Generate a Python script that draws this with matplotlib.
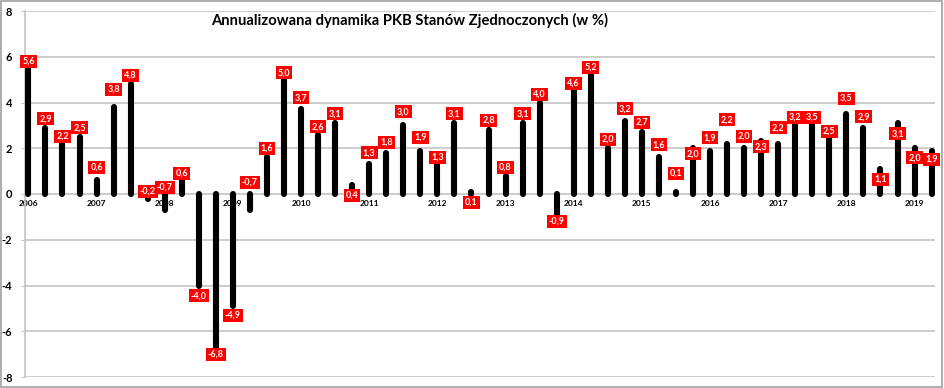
import matplotlib.pyplot as plt
from matplotlib.patches import Rectangle

# quarterly annualised US GDP growth, 2006 Q1 .. 2019 Q2
years = list(range(2006, 2020))
quarters = ["Q1", "Q2", "Q3", "Q4"]
growth = [
    5.6, 2.9, 2.2, 2.5,
    0.6, 3.8, 4.8, -0.2,
    -0.7, 0.6, -4.0, -6.8,
    -4.9, -0.7, 1.6, 5.0,
    3.7, 2.6, 3.1, 0.4,
    1.3, 1.8, 3.0, 1.9,
    1.3, 3.1, 0.1, 2.8,
    0.8, 3.1, 4.0, -0.9,
    4.6, 5.2, 2.0, 3.2,
    2.7, 1.6, 0.1, 2.0,
    1.9, 2.2, 2.0, 2.3,
    2.2, 3.2, 3.5, 2.5,
    3.5, 2.9, 1.1, 3.1,
    2.0, 1.9,
]

# where each data label sits relative to the end of its bar (layout only)
label_shift = [
    0.21, 0.38, 0.32, 0.39,
    0.57, 0.78, 0.40, 0.33,
    1.00, 0.30, -0.45, -0.20,
    -0.40, 1.22, 0.39, 0.30,
    0.50, 0.34, 0.40, -0.46,
    0.50, 0.46, 0.60, 0.58,
    0.31, 0.40, -0.46, 0.43,
    0.37, 0.40, 0.36, -0.30,
    0.23, 0.35, 0.38, 0.52,
    0.43, 0.55, 0.81, -0.24,
    0.55, 1.05, 0.52, -0.23,
    0.69, 0.15, -0.15, 0.24,
    0.69, 0.48, -0.47, -0.47,
    -0.42, -0.39,
]

lab_font = "Lato"

fig = plt.figure(figsize=(9.45, 3.88), dpi=100)
ax = fig.add_axes([25 / 945, 1 - 377 / 388, 910 / 945, 366 / 388])

xs = list(range(len(growth)))

# spine position first, it resets the ticks
ax.spines["bottom"].set_position(("data", 0))
ax.spines["bottom"].set_visible(False)
ax.spines["left"].set_color("#c4c4c4")
ax.spines["left"].set_linewidth(1.2)
ax.spines["top"].set_visible(False)
ax.spines["right"].set_visible(False)

ax.set_ylim(-8, 8)
ax.set_xlim(-0.2, len(growth) - 0.8)
ax.set_yticks(range(-8, 9, 2))
ax.yaxis.grid(True, color="#c4c4c4", linewidth=1.2)
ax.set_axisbelow(True)

ax.vlines(xs, 0, growth, colors="black", linewidth=4.4,
          capstyle="round", zorder=3)

for x, v, s in zip(xs, growth, label_shift):
    ax.text(x, v + s, f"{v:.1f}".replace(".", ","),
            ha="center", va="center", color="white",
            fontsize=6.5, fontweight="bold", family=lab_font, zorder=5,
            bbox=dict(boxstyle="square,pad=0.22", facecolor="#ff0000",
                      edgecolor="none"))

# year labels under the first quarter of each year
ax.set_xticks([i * 4 for i in range(len(years))])
ax.set_xticklabels([str(y) for y in years], fontsize=6,
                   fontweight="bold", family=lab_font)
ax.tick_params(axis="x", length=0, pad=4)

ax.set_yticklabels([str(v) for v in range(-8, 9, 2)], fontsize=8,
                   fontweight="bold", family=lab_font)
ax.tick_params(axis="y", length=3, color="#c4c4c4", pad=6)

fig.text(0.433, 0.948, "Annualizowana dynamika PKB Stanów Zjednoczonych (w %)",
         ha="center", va="center", fontsize=10.6, fontweight="bold",
         family=lab_font)

fig.patches.append(Rectangle((0.001, 0.003), 0.996, 0.995,
                             transform=fig.transFigure, fill=False,
                             edgecolor="#a0a0a0", linewidth=1.2))

fig.savefig("out.png", dpi=100)
